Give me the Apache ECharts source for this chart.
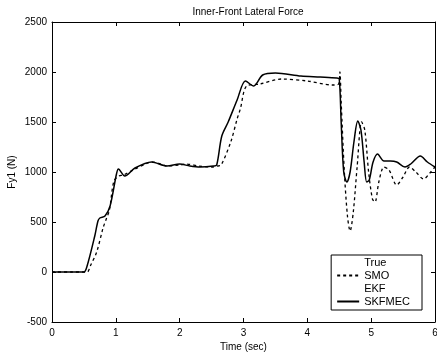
<!DOCTYPE html>
<html>
<head>
<meta charset="utf-8">
<title>Inner-Front Lateral Force</title>
<script src="https://cdn.jsdelivr.net/npm/echarts@6/dist/echarts.min.js"></script>
<style>
  html, body { margin: 0; padding: 0; background: #fff; }
  #main { width: 437px; height: 356px; }
</style>
</head>
<body>
<div id="main"></div>
<script>
// values: time (sec) and Fy1 (N)
var smoTime = [0, 0.3, 0.55, 0.6, 0.7, 0.8, 0.85, 0.9, 0.97, 1.05, 1.12, 1.3, 1.5, 1.56, 1.7, 1.8, 2.0, 2.1, 2.3, 2.5, 2.6, 2.65, 2.8, 2.9, 2.95, 3.05, 3.26, 3.6, 4.0, 4.4, 4.49, 4.51, 4.53, 4.58, 4.63, 4.67, 4.72, 4.78, 4.85, 4.9, 4.96, 5.02, 5.06, 5.12, 5.2, 5.28, 5.4, 5.5, 5.6, 5.7, 5.82, 5.92, 6.0];
var smoForce = [0, 0, 0, 60, 200, 440, 530, 620, 910, 960, 970, 1030, 1090, 1100, 1080, 1060, 1070, 1080, 1060, 1050, 1060, 1070, 1300, 1530, 1630, 1860, 1880, 1930, 1910, 1870, 1880, 2000, 1700, 1000, 550, 410, 600, 1050, 1500, 1420, 1000, 730, 700, 900, 1050, 1020, 870, 950, 1050, 1000, 930, 990, 1050];

var skfTime = [0, 0.3, 0.5, 0.55, 0.67, 0.72, 0.75, 0.83, 0.91, 1.01, 1.04, 1.14, 1.3, 1.56, 1.8, 2.0, 2.16, 2.32, 2.53, 2.58, 2.66, 2.76, 2.9, 3.03, 3.16, 3.3, 3.5, 3.9, 4.2, 4.46, 4.5, 4.53, 4.57, 4.62, 4.67, 4.73, 4.79, 4.84, 4.89, 4.93, 4.97, 5.03, 5.1, 5.2, 5.3, 5.4, 5.53, 5.62, 5.77, 5.88, 6.0];
var skfForce = [0, 0, 0, 60, 360, 510, 540, 560, 660, 980, 1030, 960, 1040, 1100, 1060, 1080, 1060, 1050, 1060, 1070, 1360, 1500, 1720, 1910, 1860, 1970, 1990, 1960, 1950, 1940, 1930, 1500, 1000, 900, 1000, 1300, 1510, 1420, 1100, 900, 920, 1100, 1180, 1110, 1110, 1100, 1050, 1080, 1160, 1100, 1050];

var xTicks = [0, 1, 2, 3, 4, 5, 6];
var yTicks = [-500, 0, 500, 1000, 1500, 2000, 2500];
var legendNames = ['True', 'SMO', 'EKF', 'SKFMEC'];

function pairs(t, v) {
  var out = [];
  for (var i = 0; i < t.length; i++) out.push([t[i], v[i]]);
  return out;
}

var myChart = echarts.init(document.getElementById('main'));
var font = 'Liberation Sans, Arial, sans-serif';

var frameTick = { show: true, inside: true, length: 4, lineStyle: { color: '#000', width: 1 } };

option = {
  animation: false,
  backgroundColor: '#fff',
  textStyle: { fontFamily: font, color: '#000' },
  title: {
    text: 'Inner-Front Lateral Force',
    left: 243,
    textAlign: 'center',
    top: 2,
    textStyle: { fontSize: 10, fontWeight: 'normal', color: '#000', fontFamily: font }
  },
  grid: { left: 52, right: 2, top: 22, bottom: 34, containLabel: false, outerBoundsMode: 'none' },
  legend: {
    data: legendNames,
    orient: 'vertical',
    right: 15,
    bottom: 46,
    itemWidth: 22,
    itemHeight: 8,
    itemGap: 2,
    padding: [2, 12, 3, 5],
    borderColor: '#000',
    borderWidth: 1,
    backgroundColor: '#fff',
    itemStyle: { opacity: 0, borderWidth: 0 },
    textStyle: { fontSize: 11, color: '#000', fontFamily: font },
    selectedMode: false
  },
  xAxis: [
    {
      type: 'value', min: xTicks[0], max: xTicks[xTicks.length - 1], interval: 1,
      name: 'Time (sec)', nameLocation: 'middle', nameGap: 20, nameMoveOverlap: false,
      nameTextStyle: { fontSize: 10, color: '#000', fontFamily: font },
      axisLine: { show: true, onZero: false, lineStyle: { color: '#000', width: 1 } },
      axisTick: frameTick,
      axisLabel: { fontSize: 10, color: '#000', margin: 6, fontFamily: font },
      splitLine: { show: false }
    },
    {
      type: 'value', position: 'top', min: 0, max: 6, interval: 1,
      axisLine: { show: true, onZero: false, lineStyle: { color: '#000', width: 1 } },
      axisTick: frameTick, axisLabel: { show: false }, splitLine: { show: false }
    }
  ],
  yAxis: [
    {
      type: 'value', min: yTicks[0], max: yTicks[yTicks.length - 1], interval: 500,
      name: 'Fy1 (N)', nameLocation: 'middle', nameGap: 35, nameRotate: 90, nameMoveOverlap: false,
      nameTextStyle: { fontSize: 10, color: '#000', fontFamily: font },
      axisLine: { show: true, onZero: false, lineStyle: { color: '#000', width: 1 } },
      axisTick: frameTick,
      axisLabel: { fontSize: 10, color: '#000', margin: 5, fontFamily: font,
        formatter: function (v) { return String(v); } },
      splitLine: { show: false }
    },
    {
      type: 'value', position: 'right', min: -500, max: 2500, interval: 500,
      axisLine: { show: true, onZero: false, lineStyle: { color: '#000', width: 1 } },
      axisTick: frameTick, axisLabel: { show: false }, splitLine: { show: false }
    }
  ],
  series: [
    { name: 'True', type: 'line', data: [], showSymbol: false, symbol: 'none',
      lineStyle: { color: 'transparent' }, itemStyle: { color: 'transparent' } },
    { name: 'SMO', type: 'line', data: pairs(smoTime, smoForce), symbol: 'none', smooth: 0.3,
      lineStyle: { color: '#000', width: 1.3, type: [3, 3] }, itemStyle: { color: '#000' } },
    { name: 'EKF', type: 'line', data: [], showSymbol: false, symbol: 'none',
      lineStyle: { color: 'transparent' }, itemStyle: { color: 'transparent' } },
    { name: 'SKFMEC', type: 'line', data: pairs(skfTime, skfForce), symbol: 'none', smooth: 0.3,
      lineStyle: { color: '#000', width: 1.5 }, itemStyle: { color: '#000' } }
  ]
};

myChart.setOption(option);
</script>
</body>
</html>
